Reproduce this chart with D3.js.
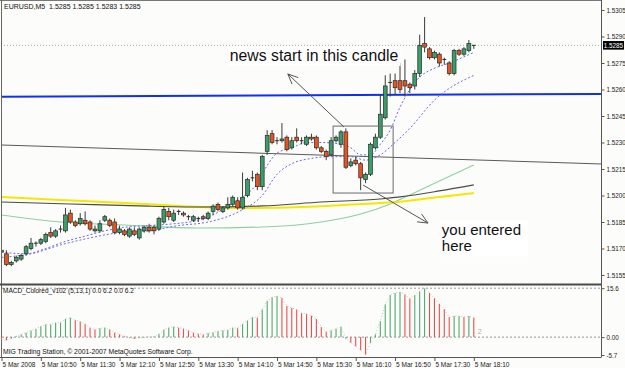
<!DOCTYPE html>
<html><head><meta charset="utf-8">
<script src="https://cdn.jsdelivr.net/npm/d3@7"></script>
<style>body{margin:0;background:#fff}svg{display:block}text{font-family:"Liberation Sans",Arial,sans-serif}</style>
</head><body><svg id="c" width="625" height="368"></svg>
<script>
// ---------- DATA ----------
const symbolTitle = "EURUSD,M5  1.5285 1.5285 1.5283 1.5285";
const macdTitle = "MACD_Colored_v102 (5,13,1) 0.0 6.2 0.0 6.2";
const footer = "MIG Trading Station, \u00A9 2001-2007 MetaQuotes Software Corp.";
const opens  = [1.5168,1.5167,1.5161,1.5163,1.5164,1.5167,1.5170,1.5173,1.5173,1.5174,1.5179,1.5177,1.5181,1.5180,1.5190,1.5185,1.5184,1.5186,1.5185,1.5180,1.5180,1.5186,1.5186,1.5185,1.5179,1.5180,1.5177,1.5180,1.5176,1.5180,1.5182,1.5182,1.5181,1.5185,1.5191,1.5186,1.5191,1.5190,1.5188,1.5186,1.5187,1.5188,1.5187,1.5191,1.5195,1.5191,1.5193,1.5195,1.5197,1.5193,1.5200,1.5210,1.5212,1.5205,1.5225,1.5235,1.5231,1.5231,1.5233,1.5227,1.5233,1.5231,1.5229,1.5233,1.5233,1.5227,1.5225,1.5223,1.5231,1.5229,1.5236,1.5217,1.5220,1.5218,1.5209,1.5212,1.5227,1.5233,1.5244,1.5264,1.5265,1.5265,1.5265,1.5263,1.5262,1.5269,1.5286,1.5283,1.5278,1.5280,1.5277,1.5275,1.5269,1.5282,1.5280,1.5282,1.5285];
const highs  = [1.5170,1.5169,1.5163,1.5166,1.5167,1.5172,1.5176,1.5174,1.5176,1.5179,1.5182,1.5181,1.5183,1.5193,1.5192,1.5186,1.5190,1.5191,1.5186,1.5183,1.5186,1.5189,1.5187,1.5187,1.5183,1.5181,1.5182,1.5182,1.5182,1.5183,1.5184,1.5183,1.5188,1.5194,1.5193,1.5192,1.5192,1.5191,1.5189,1.5189,1.5188,1.5189,1.5191,1.5195,1.5196,1.5194,1.5199,1.5200,1.5199,1.5213,1.5210,1.5214,1.5213,1.5223,1.5237,1.5237,1.5233,1.5241,1.5234,1.5233,1.5238,1.5233,1.5234,1.5235,1.5234,1.5228,1.5226,1.5233,1.5234,1.5237,1.5238,1.5221,1.5222,1.5219,1.5213,1.5230,1.5235,1.5257,1.5268,1.5269,1.5269,1.5275,1.5277,1.5264,1.5271,1.5291,1.5301,1.5284,1.5282,1.5281,1.5278,1.5276,1.5283,1.5283,1.5284,1.5288,1.5285];
const lows   = [1.5167,1.5160,1.5160,1.5162,1.5163,1.5166,1.5169,1.5171,1.5172,1.5173,1.5176,1.5176,1.5179,1.5179,1.5184,1.5182,1.5183,1.5183,1.5180,1.5179,1.5179,1.5185,1.5182,1.5178,1.5178,1.5177,1.5176,1.5177,1.5175,1.5179,1.5179,1.5178,1.5180,1.5184,1.5186,1.5185,1.5189,1.5188,1.5186,1.5185,1.5185,1.5186,1.5186,1.5189,1.5191,1.5190,1.5192,1.5194,1.5192,1.5192,1.5199,1.5208,1.5203,1.5203,1.5223,1.5229,1.5229,1.5230,1.5225,1.5226,1.5230,1.5229,1.5228,1.5231,1.5226,1.5224,1.5220,1.5222,1.5230,1.5227,1.5215,1.5216,1.5217,1.5203,1.5207,1.5211,1.5226,1.5232,1.5243,1.5256,1.5257,1.5258,1.5256,1.5258,1.5260,1.5267,1.5281,1.5277,1.5277,1.5273,1.5274,1.5268,1.5268,1.5279,1.5279,1.5281,1.5283];
const closes = [1.5169,1.5161,1.5162,1.5165,1.5166,1.5171,1.5173,1.5173,1.5175,1.5178,1.5177,1.5180,1.5181,1.5189,1.5185,1.5183,1.5187,1.5184,1.5181,1.5181,1.5184,1.5188,1.5183,1.5179,1.5181,1.5178,1.5181,1.5178,1.5181,1.5182,1.5180,1.5180,1.5187,1.5192,1.5188,1.5190,1.5191,1.5189,1.5188,1.5188,1.5187,1.5187,1.5190,1.5194,1.5192,1.5193,1.5195,1.5199,1.5193,1.5199,1.5209,1.5210,1.5205,1.5222,1.5234,1.5230,1.5231,1.5232,1.5226,1.5231,1.5231,1.5231,1.5233,1.5232,1.5227,1.5225,1.5222,1.5231,1.5233,1.5236,1.5216,1.5219,1.5218,1.5210,1.5212,1.5229,1.5233,1.5246,1.5262,1.5264,1.5261,1.5260,1.5262,1.5261,1.5269,1.5285,1.5284,1.5278,1.5281,1.5275,1.5277,1.5269,1.5282,1.5280,1.5283,1.5286,1.5285];
const macd = [-0.7,-1.0,-0.5,0.3,0.85,1.4,2.1,2.6,3.5,4.0,4.0,4.6,4.6,5.8,6.2,5.4,5.0,4.2,3.0,2.4,2.8,3.0,2.4,1.4,0.85,0.3,-0.2,-0.5,-0.2,-0.1,0.1,0.2,1.0,2.4,3.0,3.3,3.0,2.7,2.1,1.4,1.1,0.85,1.2,1.5,1.9,2.1,2.3,3.0,2.8,4.2,5.3,6.4,6.2,8.8,11.5,12.7,13.1,12.5,9.9,9.3,8.8,7.7,7.4,6.8,5.8,3.2,1.7,2.1,2.65,3.3,-0.5,-1.8,-2.9,-4.2,-5.7,-1.8,0.85,5.1,10.4,13.4,14.1,14.4,13.6,12.3,13.4,14.6,15.6,14.1,12.5,10.6,9.0,6.4,6.7,6.7,6.4,6.7,6.2];
const fastIdx = [0,5,9,13,17,21,25,30,35,40,43,46,49,52,54,56,59,62,65,69,71,73,75,77,79,81,83,85,88,91,96];
const fastVal = [1.5168,1.5167,1.5170,1.5174,1.5177,1.5180,1.5182,1.5183,1.5184,1.5186,1.5189,1.5194,1.5199,1.5207,1.5217,1.5224,1.5227,1.5230,1.5230,1.5229,1.5227,1.5223,1.5223,1.5229,1.5237,1.5250,1.5260,1.5267,1.5272,1.5275,1.5281];
const slowIdx = [0,6,12,18,24,30,36,42,49,53,56,59,63,67,71,74,77,80,83,88,96];
const slowVal = [1.5165,1.5167,1.5172,1.5176,1.5179,1.5180,1.5183,1.5185,1.5192,1.5200,1.5212,1.5218,1.5221,1.5222,1.5222,1.5220,1.5223,1.5230,1.5238,1.5254,1.5268];
const yellowIdx = [0,12,25,36,48,61,73,81,89,96];
const yellowVal = [1.51992,1.51975,1.51958,1.51941,1.51929,1.51935,1.51952,1.51965,1.51992,1.52014];
const darkIdx = [0,14,28,40,53,65,77,81,89,96];
const darkVal = [1.51963,1.51952,1.51941,1.51935,1.51941,1.51963,1.51980,1.51992,1.52026,1.52060];
const greenIdx = [0,12,25,40,53,65,73,79,83,89,96];
const greenVal = [1.51890,1.51850,1.51833,1.51816,1.51822,1.51850,1.51895,1.51952,1.52003,1.52082,1.52173];
const blueTrendIdx = [0,122.7], blueTrendVal = [1.52559,1.52575];
const grayTrendIdx = [0,122.7], grayTrendVal = [1.52286,1.52178];
const priceTicks = [1.5305,1.5290,1.5275,1.5260,1.5245,1.5230,1.5215,1.5200,1.5185,1.5170,1.5155];
const lastPrice = 1.5285;
const macdTicks = [15.6,0,-5.7], macdTickLabels = ["15.6","0.00","-5.7"];
const timeTickIdx = [0,8,16,24,32,40,48,56,64,72,80,88,96];
const timeLabels = ["5 Mar 2008","5 Mar 10:50","5 Mar 11:30","5 Mar 12:10","5 Mar 12:50","5 Mar 13:30","5 Mar 14:10","5 Mar 14:50","5 Mar 15:30","5 Mar 16:10","5 Mar 16:50","5 Mar 17:30","5 Mar 18:10"];
// annotations (bar index, price)
const boxIdx = [67.4,79.6], boxVal = [1.52393,1.52014];
const arrow1From = [69.6,1.52388], arrow1To = [58.2,1.52688];
const arrow2From = [73.5,1.52059], arrow2To = [86.7,1.51844];
const note1 = "news start in this candle", note1Pos = [46.4,1.52761];
const note2 = ["you entered","here"], note2Pos = [89.5,1.51777];

// ---------- SCALES ----------
const svg = d3.select("#c");
const x = d3.scaleLinear().domain([0,96]).range([1.5,473.8]);
const y = d3.scaleLinear().domain([1.5155,1.5305]).range([275,10]);
const ym = d3.scaleLinear().domain([-5.7,15.6]).range([355,288.2]);
const AX = 601.5;

svg.append("rect").attr("width",625).attr("height",368).attr("fill","#fcfcfa");

const clip = svg.append("defs").append("clipPath").attr("id","mc");
clip.append("rect").attr("x",1).attr("y",1).attr("width",AX-1).attr("height",282);
const main = svg.append("g").attr("clip-path","url(#mc)");

main.append("line").attr("x1",1).attr("x2",AX).attr("y1",y(lastPrice)).attr("y2",y(lastPrice))
  .attr("stroke","#a8a8a8").attr("stroke-dasharray","1,2");

function pline(idx, val, color, w, dash, curve){
  const pts = idx.map((d,i)=>[x(d), y(val[i])]);
  main.append("path").attr("d", d3.line().curve(curve||d3.curveLinear)(pts))
    .attr("fill","none").attr("stroke",color).attr("stroke-width",w)
    .attr("stroke-dasharray",dash||null);
}
pline(grayTrendIdx, grayTrendVal, "#5a5a5a", 1.1);
pline(blueTrendIdx, blueTrendVal, "#1030f0", 2);
pline(greenIdx, greenVal, "#8fcfa2", 1.1, null, d3.curveMonotoneX);
pline(yellowIdx, yellowVal, "#f3e800", 2, null, d3.curveMonotoneX);
pline(darkIdx, darkVal, "#4a4a4a", 1.1, null, d3.curveMonotoneX);
pline(slowIdx, slowVal, "#6a6ae8", 1, "2,2", d3.curveMonotoneX);
pline(fastIdx, fastVal, "#6a6ae8", 1, "2,2", d3.curveMonotoneX);

// candles
const cg = main.append("g");
opens.forEach((o,i)=>{
  const c = closes[i], cx = x(i);
  cg.append("line").attr("x1",cx).attr("x2",cx).attr("y1",y(highs[i])).attr("y2",y(lows[i]))
    .attr("stroke","#3a3a3a").attr("stroke-width",1);
  if (Math.abs(o-c) < 0.00005) {
    cg.append("line").attr("x1",cx-1.9).attr("x2",cx+1.9).attr("y1",y(c)).attr("y2",y(c))
      .attr("stroke","#2a2a2a").attr("stroke-width",1);
  } else {
    const top = y(Math.max(o,c)), bot = y(Math.min(o,c));
    cg.append("rect").attr("x",cx-1.9).attr("y",top).attr("width",3.8).attr("height",bot-top)
      .attr("fill", c>o ? "#3a9e68" : "#e65520").attr("stroke","#2a2a2a").attr("stroke-width",0.7);
  }
});

// annotations
main.append("rect").attr("x",x(boxIdx[0])).attr("y",y(boxVal[0]))
  .attr("width",x(boxIdx[1])-x(boxIdx[0])).attr("height",y(boxVal[1])-y(boxVal[0]))
  .attr("fill","none").attr("stroke","#6a6a6a").attr("stroke-width",1);
function arrow(f,t){
  const x1=x(f[0]),y1=y(f[1]),x2=x(t[0]),y2=y(t[1]);
  const a=Math.atan2(y1-y2,x1-x2), L=11, s=0.42;
  main.append("path").attr("d",`M${x1},${y1}L${x2},${y2}M${x2+L*Math.cos(a+s)},${y2+L*Math.sin(a+s)}L${x2},${y2}L${x2+L*Math.cos(a-s)},${y2+L*Math.sin(a-s)}`)
    .attr("fill","none").attr("stroke","#555").attr("stroke-width",1);
}
arrow(arrow1From, arrow1To);
arrow(arrow2From, arrow2To);

function note(lines, pos, size, padR){
  const g = main.append("g");
  const bg = g.append("rect").attr("fill","#ffffff");
  const t = g.append("text").attr("x",x(pos[0])).attr("y",y(pos[1])).attr("font-size",size).attr("fill","#111");
  lines.forEach((s,k)=>t.append("tspan").attr("x",x(pos[0])).attr("dy",k?16.5:0).text(s));
  const b = t.node().getBBox();
  bg.attr("x",b.x-2).attr("y",b.y-1).attr("width",b.width+2+padR).attr("height",b.height+3);
}
note([note1], note1Pos, 15.8, 2);
note(note2, note2Pos, 15, 7);

svg.append("text").attr("x",4).attr("y",9).attr("font-size",7).attr("fill","#111")
  .style("white-space","pre").text(symbolTitle);

// frame
svg.append("line").attr("x1",0).attr("x2",AX).attr("y1",0.5).attr("y2",0.5).attr("stroke","#777");
svg.append("line").attr("x1",1.5).attr("x2",1.5).attr("y1",0).attr("y2",357).attr("stroke","#666");
svg.append("rect").attr("x",0).attr("y",283.5).attr("width",AX).attr("height",2).attr("fill","#4a4a4a");
svg.append("line").attr("x1",0).attr("x2",AX).attr("y1",357.5).attr("y2",357.5).attr("stroke","#555");

// price axis
const pa = svg.append("g").attr("transform",`translate(${AX},0)`)
  .call(d3.axisRight(y).tickValues(priceTicks).tickSize(3).tickPadding(2).tickFormat(d3.format(".4f")));
pa.select(".domain").attr("d","M0,0V357").attr("stroke","#555");
pa.selectAll(".tick line").attr("stroke","#555");
pa.selectAll("text").attr("font-size",6.3).attr("fill","#222").attr("font-family","Liberation Sans, Arial");
svg.append("rect").attr("x",603).attr("y",y(lastPrice)-4.3).attr("width",21).attr("height",8.6).attr("fill","#000");
svg.append("text").attr("x",613.5).attr("y",y(lastPrice)+2.3).attr("text-anchor","middle")
  .attr("font-size",6.3).attr("fill","#fff").text(d3.format(".4f")(lastPrice));

// MACD panel
const mg = svg.append("g");
mg.append("line").attr("x1",2).attr("x2",AX).attr("y1",ym(15.6)).attr("y2",ym(15.6)).attr("stroke","#999").attr("stroke-dasharray","2,2");
mg.append("line").attr("x1",2).attr("x2",AX).attr("y1",ym(0)).attr("y2",ym(0)).attr("stroke","#999").attr("stroke-dasharray","2,2");
macd.forEach((v,i)=>{
  const up = i===0 ? v>=0 : v>=macd[i-1];
  mg.append("line").attr("x1",x(i)).attr("x2",x(i)).attr("y1",ym(0)).attr("y2",ym(v))
    .attr("stroke", up ? "#4faa6c" : "#f04c4c").attr("stroke-width",1.1);
});
mg.append("path").attr("d",d3.line()(macd.map((v,i)=>[x(i),ym(v)])))
  .attr("fill","none").attr("stroke","#c4c4c4").attr("stroke-dasharray","1,2");
mg.append("text").attr("x",x(96)+4).attr("y",ym(0)-3).attr("font-size",7).attr("fill","#b0b0b0").text("2");
const ma = svg.append("g").attr("transform",`translate(${AX},0)`)
  .call(d3.axisRight(ym).tickValues(macdTicks).tickSize(3).tickPadding(2).tickFormat((d,i)=>macdTickLabels[i]));
ma.select(".domain").remove();
ma.selectAll(".tick line").attr("stroke","#555");
ma.selectAll("text").attr("font-size",6.3).attr("fill","#222").attr("font-family","Liberation Sans, Arial");
svg.append("text").attr("x",3).attr("y",293).attr("font-size",6.5).attr("fill","#111").text(macdTitle);
svg.append("text").attr("x",3).attr("y",354).attr("font-size",6.8).attr("fill","#111").text(footer);

// time axis
const ta = svg.append("g").attr("transform","translate(0,357.5)")
  .call(d3.axisBottom(x).tickValues(timeTickIdx).tickSize(3.5).tickPadding(1).tickFormat((d,i)=>timeLabels[i]));
ta.select(".domain").remove();
ta.selectAll(".tick line").attr("stroke","#555");
ta.selectAll("text").attr("text-anchor","start").attr("dx",0.5).attr("font-size",6.5).attr("fill","#222")
  .attr("font-family","Liberation Sans, Arial");
</script></body></html>
